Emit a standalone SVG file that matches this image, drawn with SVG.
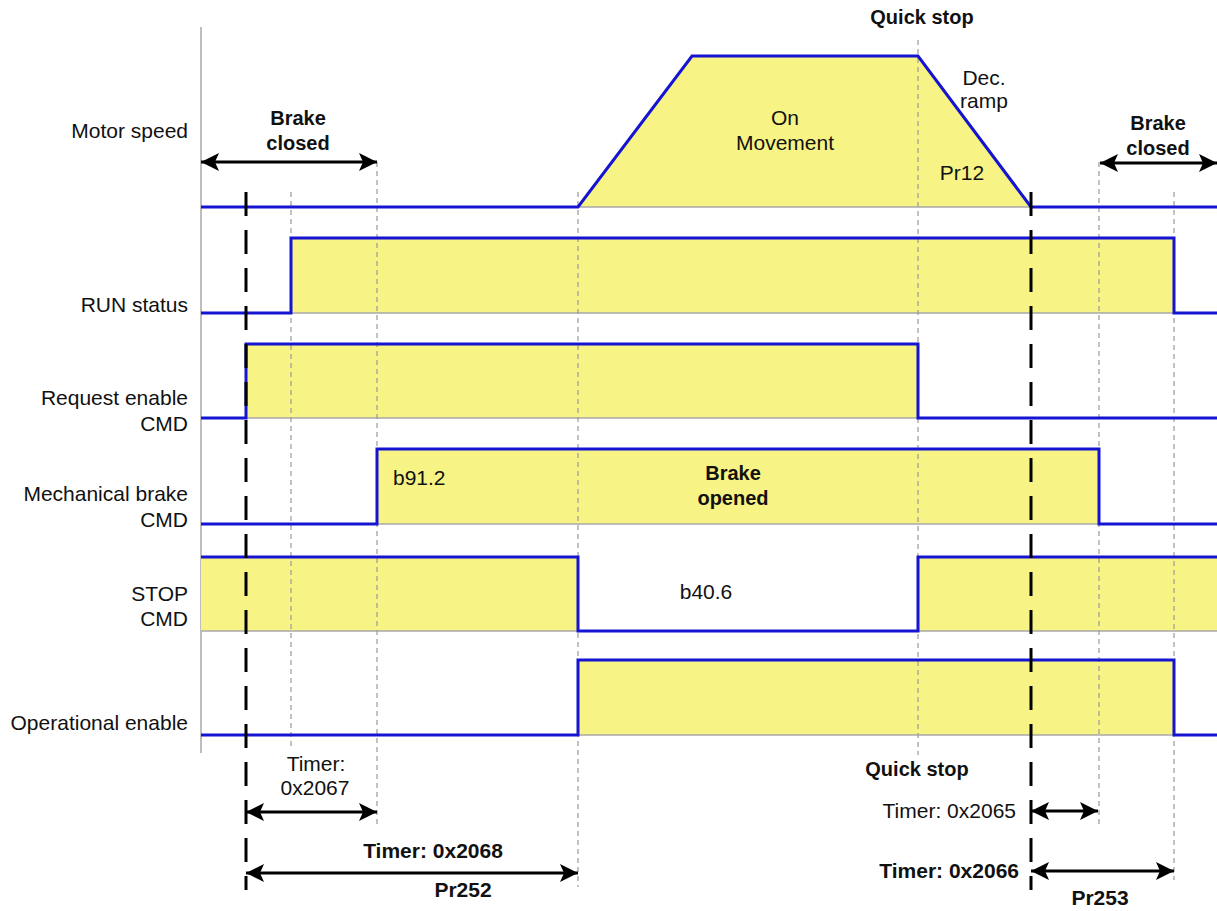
<svg xmlns="http://www.w3.org/2000/svg" width="1217" height="911" viewBox="0 0 1217 911">
<style>
text{font-family:"Liberation Sans",Arial,sans-serif;fill:#111;}
.lbl{font-size:21px;text-anchor:end;}
.reg{font-size:21px;}
.b{font-size:20px;font-weight:bold;}
.b2{font-size:21px;font-weight:bold;}
.c{text-anchor:middle;}
.e{text-anchor:end;}
.fill{fill:#f7f385;stroke:none;}
.base{stroke:#a8a8a8;stroke-width:1.5;fill:none;}
.sig{fill:none;stroke:#1414d2;stroke-width:3;stroke-linejoin:miter;}
.grid{stroke:#9a9a9a;stroke-width:1.2;stroke-dasharray:5,4;fill:none;}
.bold{stroke:#000;stroke-width:3;stroke-dasharray:24,14;fill:none;}
.arr{stroke:#000;stroke-width:3;fill:none;marker-start:url(#ah);marker-end:url(#ah);}
</style>
<defs>
<marker id="ah" viewBox="0 0 18 18" refX="18" refY="9" markerWidth="18" markerHeight="18" markerUnits="userSpaceOnUse" orient="auto-start-reverse">
<path d="M0,0 L18,9 L0,18 L4,9 z" fill="#000"/>
</marker>
</defs>
<rect width="1217" height="911" fill="#fff"/>

<g id="axis">
<line x1="201" y1="27" x2="201" y2="753" stroke="#a8a8a8" stroke-width="1.5"/>
</g>

<g id="fills">
<polygon class="fill" points="578,207 692,56 918,56 1031,207"/>
<rect class="fill" x="291" y="238" width="883" height="75"/>
<rect class="fill" x="246" y="344" width="672" height="74"/>
<rect class="fill" x="377" y="449" width="722" height="75"/>
<rect class="fill" x="201" y="557" width="377" height="74"/>
<rect class="fill" x="918" y="557" width="299" height="74"/>
<rect class="fill" x="578" y="660" width="596" height="75"/>
<line class="base" x1="578" y1="207" x2="1031" y2="207"/>
<line class="base" x1="291" y1="313" x2="1174" y2="313"/>
<line class="base" x1="246" y1="418" x2="918" y2="418"/>
<line class="base" x1="377" y1="524" x2="1099" y2="524"/>
<line class="base" x1="201" y1="631" x2="578" y2="631"/>
<line class="base" x1="918" y1="631" x2="1217" y2="631"/>
<line class="base" x1="578" y1="735" x2="1174" y2="735"/>
</g>

<g id="grid-lines">
<line class="grid" x1="291" y1="192" x2="291" y2="750"/>
<line class="grid" x1="377" y1="162" x2="377" y2="826"/>
<line class="grid" x1="578" y1="192" x2="578" y2="887"/>
<line class="grid" x1="918" y1="40" x2="918" y2="755"/>
<line class="grid" x1="1099" y1="162" x2="1099" y2="827"/>
<line class="grid" x1="1174" y1="192" x2="1174" y2="880"/>
</g>

<g id="motor-speed">
<polyline class="sig" points="201,207 578,207 692,56 918,56 1031,207 1217,207"/>
<text class="lbl" x="188" y="138">Motor speed</text>
<text class="reg c" x="785" y="125">On</text>
<text class="reg c" x="785" y="150">Movement</text>
<text class="reg c" x="984" y="85">Dec.</text>
<text class="reg c" x="984" y="108">ramp</text>
<text class="reg c" x="962" y="180">Pr12</text>
</g>

<g id="run-status">
<polyline class="sig" points="201,313 291,313 291,238 1174,238 1174,313 1217,313"/>
<text class="lbl" x="188" y="312">RUN status</text>
</g>

<g id="request-enable">
<polyline class="sig" points="201,418 246,418 246,344 918,344 918,418 1217,418"/>
<text class="lbl" x="188" y="405">Request enable</text>
<text class="lbl" x="188" y="431">CMD</text>
</g>

<g id="mechanical-brake">
<polyline class="sig" points="201,524 377,524 377,449 1099,449 1099,524 1217,524"/>
<text class="lbl" x="188" y="501">Mechanical brake</text>
<text class="lbl" x="188" y="527">CMD</text>
<text class="reg" x="393" y="485">b91.2</text>
<text class="b c" x="733" y="480">Brake</text>
<text class="b c" x="733" y="505">opened</text>
</g>

<g id="stop-cmd">
<polyline class="sig" points="201,557 578,557 578,631 918,631 918,557 1217,557"/>
<text class="lbl" x="188" y="601">STOP</text>
<text class="lbl" x="188" y="626">CMD</text>
<text class="reg c" x="706" y="599">b40.6</text>
</g>

<g id="operational-enable">
<polyline class="sig" points="201,735 578,735 578,660 1174,660 1174,735 1217,735"/>
<text class="lbl" x="188" y="730">Operational enable</text>
</g>

<g id="connectors">
<line class="bold" x1="246" y1="192" x2="246" y2="890"/>
<line class="bold" x1="1031" y1="192" x2="1031" y2="890"/>
<line class="arr" x1="201" y1="162" x2="377" y2="162"/>
<line class="arr" x1="1100" y1="163" x2="1217" y2="163"/>
<line class="arr" x1="246" y1="812" x2="377" y2="812"/>
<line class="arr" x1="246" y1="873" x2="578" y2="873"/>
<line class="arr" x1="1031" y1="811" x2="1098" y2="811"/>
<line class="arr" x1="1031" y1="871" x2="1174" y2="871"/>
</g>

<g id="annotations">
<text class="b c" x="922" y="24">Quick stop</text>
<text class="b c" x="298" y="125">Brake</text>
<text class="b c" x="298" y="150">closed</text>
<text class="b c" x="1158" y="130">Brake</text>
<text class="b c" x="1158" y="155">closed</text>
<text class="reg c" x="316" y="771">Timer:</text>
<text class="reg c" x="315" y="795">0x2067</text>
<text class="b2 c" x="433" y="858">Timer: 0x2068</text>
<text class="b2 c" x="463" y="897">Pr252</text>
<text class="b c" x="917" y="776">Quick stop</text>
<text class="reg e" x="1016" y="818">Timer: 0x2065</text>
<text class="b2 e" x="1019" y="878">Timer: 0x2066</text>
<text class="b2 c" x="1100" y="905">Pr253</text>
</g>
</svg>
